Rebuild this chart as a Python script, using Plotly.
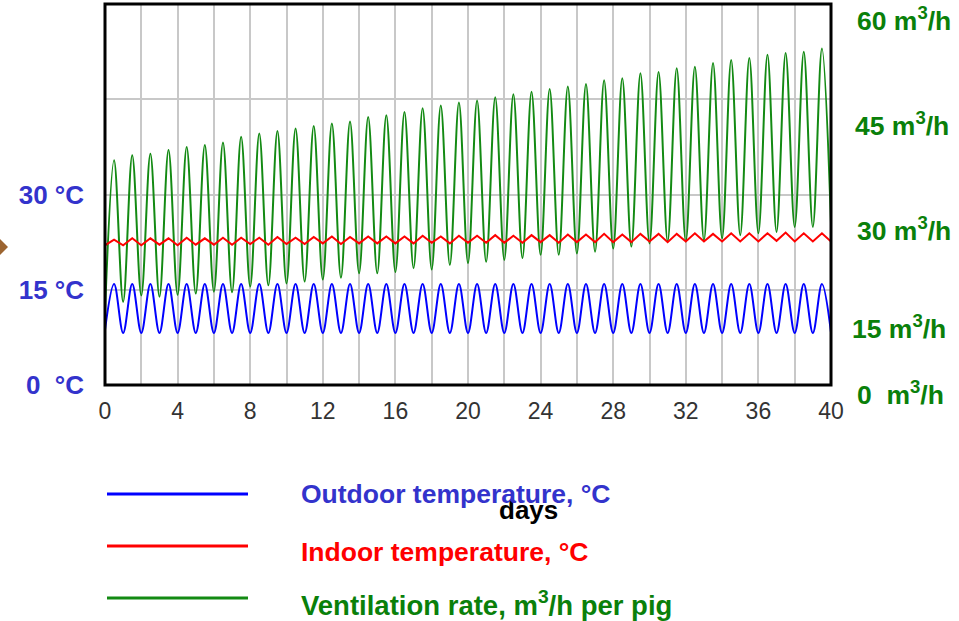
import plotly.graph_objects as go

# ---------------- data ----------------
# values at whole days 0..40 (daily minima) and half days 0.5..39.5 (daily maxima)
outdoor_min = [8.7, 8.2, 8.2, 8.2, 8.2, 8.2, 8.2, 8.2, 8.2, 8.2, 8.2,
               8.2, 8.2, 8.2, 8.2, 8.2, 8.2, 8.2, 8.2, 8.2, 8.2,
               8.2, 8.2, 8.2, 8.2, 8.2, 8.2, 8.2, 8.2, 8.2, 8.2,
               8.2, 8.2, 8.2, 8.2, 8.2, 8.2, 8.2, 8.2, 8.2, 8.3]
outdoor_max = [15.9, 15.9, 15.9, 15.9, 15.9, 15.9, 15.9, 15.9, 15.9, 15.9,
               15.9, 15.9, 15.9, 15.9, 15.9, 15.9, 15.9, 15.9, 15.9, 15.9,
               15.9, 15.9, 15.9, 15.9, 15.9, 15.9, 15.9, 15.9, 15.9, 15.9,
               15.9, 15.9, 15.9, 15.9, 15.9, 15.9, 15.9, 15.9, 15.9, 15.9]

indoor_min = [22.0, 22.0, 22.0, 22.1, 22.0, 22.1, 22.1, 22.1, 22.2, 22.1, 22.2,
              22.2, 22.3, 22.2, 22.3, 22.3, 22.3, 22.3, 22.4, 22.3, 22.4,
              22.4, 22.4, 22.4, 22.5, 22.4, 22.5, 22.5, 22.5, 22.5, 22.6,
              22.5, 22.6, 22.6, 22.6, 22.6, 22.6, 22.7, 22.6, 22.6, 22.6]
indoor_max = [22.9, 23.1, 23.1, 23.1, 23.2, 23.1, 23.2, 23.2, 23.2, 23.3,
              23.2, 23.3, 23.4, 23.3, 23.4, 23.4, 23.4, 23.5, 23.4, 23.5,
              23.5, 23.6, 23.5, 23.6, 23.6, 23.7, 23.7, 23.8, 23.7, 23.8,
              23.8, 23.8, 23.9, 23.8, 23.9, 23.9, 23.9, 24.0, 23.9, 23.9]

vent_min = [11.5, 13.1, 14.1, 13.9, 14.2, 14.4, 14.7, 14.6, 15.5, 15.7, 16.0,
            16.3, 16.6, 16.9, 17.6, 17.6, 17.8, 18.4, 18.2, 18.9, 19.2,
            19.4, 19.7, 20.0, 20.5, 20.5, 20.7, 21.0, 21.5, 21.8, 22.3,
            22.6, 22.6, 22.8, 23.1, 23.6, 23.9, 24.1, 24.9, 24.9, 25.5]
vent_max = [35.4, 36.2, 36.4, 37.0, 37.5, 37.8, 38.2, 39.1, 39.6, 40.0,
            40.4, 40.8, 41.2, 41.5, 42.2, 42.5, 43.0, 43.6, 44.0, 44.5,
            44.8, 45.3, 45.8, 46.2, 46.6, 47.0, 47.4, 48.0, 48.3, 49.1,
            49.3, 49.9, 50.1, 50.7, 51.2, 51.5, 52.0, 52.3, 52.5, 53.0]

x_ticks = [0, 4, 8, 12, 16, 20, 24, 28, 32, 36, 40]
y_ticks = [0, 15, 30, 45]
y_tick_text = ["0\u00a0\u00a0°C", "15 °C", "30 °C", ""]
right_labels = ["60 m<sup>3</sup>/h", "45 m<sup>3</sup>/h", "30 m<sup>3</sup>/h",
                "15 m<sup>3</sup>/h", "0\u00a0\u00a0m<sup>3</sup>/h"]
legend_names = ["Outdoor temperature, °C", "Indoor temperature, °C",
                "Ventilation rate, m<sup>3</sup>/h per pig"]


def interleave(mins, maxs):
    xs, ys = [], []
    for i, v in enumerate(mins):
        xs.append(float(i)); ys.append(v)
        if i < len(maxs):
            xs.append(i + 0.5); ys.append(maxs[i])
    return xs, ys


BLUE = "#0000FF"
RED = "#FF0000"
GREEN = "#138A13"
BLUE_TXT = "#3333CC"
GREEN_TXT = "#0A800A"
FONT = "Liberation Sans, Arial, sans-serif"

fig = go.Figure()
xo, yo = interleave(outdoor_min, outdoor_max)
xi, yi = interleave(indoor_min, indoor_max)
xv, yv = interleave(vent_min, vent_max)
fig.add_trace(go.Scatter(x=xv, y=yv, mode="lines", line=dict(color=GREEN, width=2, shape="spline", smoothing=1),
                         name="Ventilation rate"))
fig.add_trace(go.Scatter(x=xi, y=yi, mode="lines", line=dict(color=RED, width=2),
                         name="Indoor temperature"))
fig.add_trace(go.Scatter(x=xo, y=yo, mode="lines", line=dict(color=BLUE, width=2, shape="spline", smoothing=1),
                         name="Outdoor temperature"))

L, R, T, B = 105, 128, 4, 236
W, H = 959, 621
pw, ph = W - L - R, H - T - B


def px(x):
    return (x - L) / pw


def py(y):
    return (H - B - y) / ph


fig.update_layout(
    width=W, height=H, autosize=False,
    margin=dict(l=L, r=R, t=T, b=B),
    plot_bgcolor="white", paper_bgcolor="white",
    showlegend=False,
    xaxis=dict(range=[0, 40], tickvals=x_ticks, showgrid=True, gridcolor="#C8C8C8", gridwidth=1.5,
               minor=dict(dtick=2, showgrid=True, gridcolor="#C8C8C8", gridwidth=1.5),
               zeroline=False, showline=False, ticks="",
               tickfont=dict(family=FONT, size=23, color="#333333"),
               ticklabelstandoff=10),
    yaxis=dict(range=[0, 60], tickvals=y_ticks, ticktext=y_tick_text, showgrid=True,
               gridcolor="#C8C8C8", gridwidth=1.5, zeroline=False, showline=False, ticks="",
               tickfont=dict(family=FONT, size=26, color=BLUE_TXT, weight="bold"),
               ticklabelstandoff=20),
)

# frame
fig.add_shape(type="rect", xref="paper", yref="paper", x0=0, x1=1, y0=0, y1=1,
              line=dict(color="black", width=3), layer="above")

# right-hand labels
for txt, (xp, yp) in zip(right_labels, [(855, 19), (853, 124), (855, 229), (850, 327), (855, 393)]):
    fig.add_annotation(text=txt, xref="paper", yref="paper", x=px(xp), y=py(yp),
                       xanchor="left", yanchor="middle", showarrow=False,
                       font=dict(family=FONT, size=26.5, color=GREEN_TXT, weight="bold"))

# x-axis title
fig.add_annotation(text="days", xref="paper", yref="paper", x=px(528), y=py(510),
                   xanchor="center", yanchor="middle", showarrow=False,
                   font=dict(family=FONT, size=26, color="black", weight="bold"))

# legend
leg_colors = [BLUE, RED, GREEN]
leg_txt_colors = [BLUE_TXT, RED, GREEN_TXT]
leg_line_y = [494, 546, 598]
leg_txt_y = [494, 552, 603]
leg_sizes = [26.5, 26.5, 27.5]
for name, lc, tc, ly, ty, fs in zip(legend_names, leg_colors, leg_txt_colors, leg_line_y, leg_txt_y, leg_sizes):
    fig.add_shape(type="line", xref="paper", yref="paper", x0=px(107), x1=px(248),
                  y0=py(ly), y1=py(ly), line=dict(color=lc, width=3))
    fig.add_annotation(text=name, xref="paper", yref="paper", x=px(299), y=py(ty),
                       xanchor="left", yanchor="middle", showarrow=False,
                       font=dict(family=FONT, size=fs, color=tc, weight="bold"))

# brown diamond marker at the left edge
fig.add_shape(type="path", xref="paper", yref="paper", xsizemode="pixel", ysizemode="pixel",
              xanchor=px(0), yanchor=py(247), path="M -8,0 L 0,8 L 8,0 L 0,-8 Z",
              fillcolor="#9C6430", line=dict(width=0))

fig.write_html("out.html", config={"displayModeBar": False},
               post_script="document.body.style.margin='0';document.body.style.overflow='hidden';")
